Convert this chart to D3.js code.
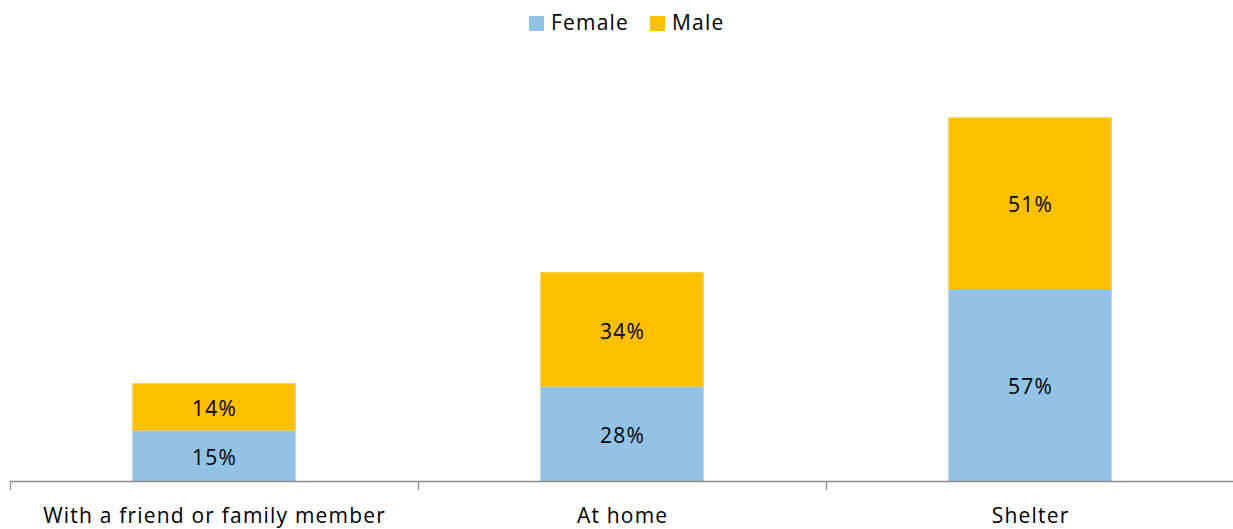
<!DOCTYPE html>
<html><head><meta charset="utf-8">
<script src="https://cdn.jsdelivr.net/npm/d3@7"></script>
<style>body{margin:0;background:#fff;} svg{display:block;} text{font-family:"Open Sans",sans-serif;letter-spacing:1.2px;}</style>
</head><body>
<svg id="chart" width="1233" height="529"></svg>
<script>
const categories = ["With a friend or family member", "At home", "Shelter"];
const seriesNames = ["Female", "Male"];
const female = [15, 28, 57];
const male = [14, 34, 51];
const colors = ["#92C3E5", "#FFC000"];

const svg = d3.select("#chart");
const x = d3.scaleBand().domain(categories).range([10, 1234]).paddingInner(0.6).paddingOuter(0.3);
const y = d3.scaleLinear().domain([0, 120]).range([481, 77]);

const rows = categories.map((c, i) => ({cat: c, Female: female[i], Male: male[i]}));
const stack = d3.stack().keys(seriesNames)(rows);

stack.forEach((layer, li) => {
  const g = svg.append("g");
  g.selectAll("rect").data(layer).join("rect")
    .attr("x", d => x(d.data.cat))
    .attr("width", x.bandwidth())
    .attr("y", d => y(d[1]))
    .attr("height", d => y(d[0]) - y(d[1]))
    .attr("fill", colors[li]);
  g.selectAll("text").data(layer).join("text")
    .attr("x", d => x(d.data.cat) + x.bandwidth() / 2 + 0.6)
    .attr("y", d => (y(d[0]) + y(d[1])) / 2)
    .attr("dy", "0.44em")
    .attr("text-anchor", "middle")
    .attr("font-size", 21)
    .attr("fill", "#000")
    .text(d => (d[1] - d[0]) + "%");
});

// axis
const band = (1234 - 10) / categories.length;
const ax = svg.append("g");
ax.append("line").attr("x1", 10).attr("x2", 1234).attr("y1", 481.5).attr("y2", 481.5)
  .attr("stroke", "#8C8C8C").attr("stroke-width", 1.3);
d3.range(categories.length + 1).forEach(i => {
  const tx = Math.round(10 + i * band) + 0.5;
  ax.append("line").attr("x1", tx).attr("x2", tx).attr("y1", 481).attr("y2", 490)
    .attr("stroke", "#8C8C8C").attr("stroke-width", 1.3);
});
ax.selectAll("text.cat").data(categories).join("text")
  .attr("class", "cat")
  .attr("x", d => x(d) + x.bandwidth() / 2 + 0.6)
  .attr("y", 523)
  .attr("text-anchor", "middle")
  .attr("font-size", 21)
  .attr("fill", "#000")
  .text(d => d);

// legend
const legend = svg.append("g");
const legX = [529, 650];
seriesNames.forEach((s, i) => {
  legend.append("rect").attr("x", legX[i]).attr("y", 16).attr("width", 15).attr("height", 15).attr("fill", colors[i]);
  legend.append("text").attr("x", legX[i] + 22).attr("y", 30).attr("font-size", 21).attr("fill", "#000").text(s);
});
</script>
</body></html>
